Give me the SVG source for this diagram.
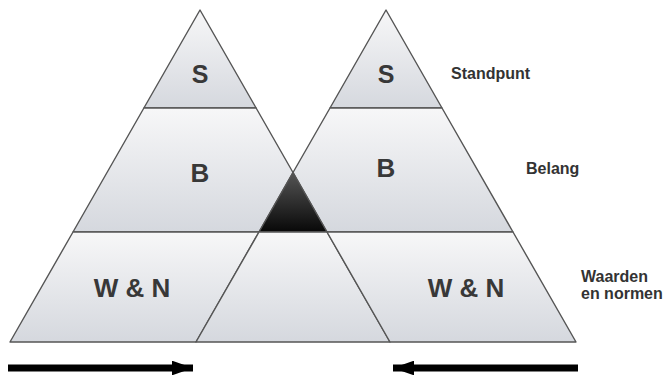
<svg xmlns="http://www.w3.org/2000/svg" width="667" height="376" viewBox="0 0 667 376">
<defs>
<linearGradient id="seg" x1="0" y1="0" x2="0" y2="1">
<stop offset="0" stop-color="#f7f7f8"/>
<stop offset="1" stop-color="#d5d8de"/>
</linearGradient>
<linearGradient id="dark" x1="0" y1="0" x2="0" y2="1">
<stop offset="0" stop-color="#555555"/>
<stop offset="1" stop-color="#080808"/>
</linearGradient>
<marker id="ah" viewBox="0 0 10 10" refX="10" refY="5" markerWidth="3" markerHeight="2.1" orient="auto" markerUnits="strokeWidth" preserveAspectRatio="none">
<path d="M0,0 L10,5 L0,10 Z" fill="#000"/>
</marker>
</defs>
<style>
.seg{fill:url(#seg);stroke:#555;stroke-width:1.4;stroke-linejoin:round}
.dk{fill:url(#dark);stroke:#555;stroke-width:1.4;stroke-linejoin:round}
.in{font-family:"Liberation Sans",Arial,sans-serif;font-weight:bold;fill:#383838;text-anchor:middle}
.lb{font-family:"Liberation Sans",Arial,sans-serif;font-weight:bold;font-size:16px;fill:#333}
.arr{stroke:#000;stroke-width:7;fill:none;marker-end:url(#ah)}
</style>
<g id="left-S"><polygon class="seg" points="200,10 143.9,108 256.1,108"/><text class="in" x="200" y="83" font-size="25">S</text></g>
<g id="right-S"><polygon class="seg" points="386,10 330,108 442,108"/><text class="in" x="386" y="83" font-size="25">S</text></g>
<g id="left-B"><polygon class="seg" points="143.9,108 256.1,108 293,172.5 259,232 73,232"/><text class="in" x="200" y="182" font-size="26">B</text></g>
<g id="right-B"><polygon class="seg" points="330,108 442,108 513,232 327,232 293,172.5"/><text class="in" x="386" y="177" font-size="26">B</text></g>
<g id="overlap"><polygon class="dk" points="293,172.5 327,232 259,232"/></g>
<g id="left-WN"><polygon class="seg" points="73,232 259,232 196,342 10,342"/><text class="in" x="132" y="297" font-size="26">W &amp; N</text></g>
<g id="middle"><polygon class="seg" points="259,232 327,232 390,342 196,342"/></g>
<g id="right-WN"><polygon class="seg" points="327,232 513,232 576,342 390,342"/><text class="in" x="466" y="297" font-size="26">W &amp; N</text></g>
<g id="labels">
<text class="lb" x="451" y="79">Standpunt</text>
<text class="lb" x="526" y="174">Belang</text>
<text class="lb" x="581" y="282">Waarden</text>
<text class="lb" x="581" y="299">en normen</text>
</g>
<g id="connectors">
<line class="arr" x1="8" y1="368" x2="193" y2="368"/>
<line class="arr" x1="578" y1="368" x2="393" y2="368"/>
</g>
</svg>
